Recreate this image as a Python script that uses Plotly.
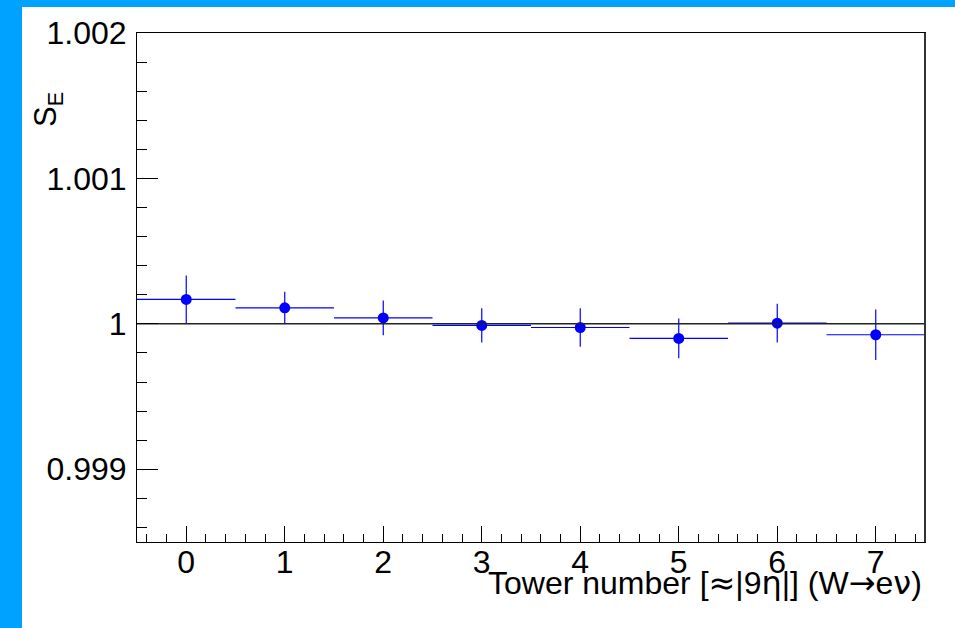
import plotly.graph_objects as go

# ---- data ----
towers = [0, 1, 2, 3, 4, 5, 6, 7]
s_e = [1.000168, 1.000110, 1.000041, 0.999989, 0.999975, 0.999900, 1.000005, 0.999925]
s_e_err = [0.000165, 0.000110, 0.000120, 0.000118, 0.000132, 0.000137, 0.000133, 0.000174]
bin_half_width = [0.5] * 8
ytick_vals = [0.999, 1.0, 1.001, 1.002]
ytick_text = ["0.999", "1", "1.001", "1.002"]
xtick_vals = [0, 1, 2, 3, 4, 5, 6, 7]
xtick_text = ["0", "1", "2", "3", "4", "5", "6", "7"]
x_range = [-0.5, 7.5]
y_range = [0.9985, 1.002]
reference_level = 1.0

W, H = 955, 628
L, R, T, B = 137, 30, 33, 86
pw, ph = W - L - R, H - T - B

FONT = "Liberation Sans, Arial, Helvetica, sans-serif"
BLUE = "#0000ff"
BORDER = "#00a2ff"

fig = go.Figure()

fig.add_trace(go.Scatter(
    x=towers, y=s_e, mode="markers",
    marker=dict(color=BLUE, size=11, line=dict(width=0)),
    error_y=dict(type="data", array=s_e_err, color=BLUE, thickness=1.2, width=0),
    error_x=dict(type="data", array=bin_half_width, color=BLUE, thickness=1.2, width=0),
    showlegend=False, cliponaxis=True,
))

# reference line at 1
fig.add_trace(go.Scatter(
    x=x_range, y=[reference_level, reference_level], mode="lines",
    line=dict(color="#222222", width=1.5), showlegend=False, hoverinfo="skip",
))

def px2x(p):
    return (p - L) / pw

def py2y(p):
    return (H - B - p) / ph

shapes = [
    dict(type="rect", xref="paper", yref="paper",
         x0=px2x(0), x1=px2x(22), y0=py2y(H), y1=py2y(0),
         fillcolor=BORDER, line=dict(width=0), layer="below"),
    dict(type="rect", xref="paper", yref="paper",
         x0=px2x(0), x1=px2x(W), y0=py2y(7), y1=py2y(0),
         fillcolor=BORDER, line=dict(width=0), layer="below"),
    # slightly heavier right frame edge
    dict(type="line", xref="paper", yref="paper", x0=1, x1=1, y0=0, y1=1,
         line=dict(color="#333333", width=2)),
]

SYM = "<span style='font-family:DejaVu Sans'>"
xtitle = "Tower number [" + SYM + "≈</span>|9" + SYM + "η</span>|] (W" + SYM + "→</span>e" + SYM + "ν</span>)"

fig.update_layout(
    width=W, height=H,
    margin=dict(l=L, r=R, t=T, b=B),
    paper_bgcolor="white", plot_bgcolor="white",
    font=dict(family=FONT, color="black", size=32),
    shapes=shapes,
    xaxis=dict(
        range=x_range, tickvals=xtick_vals, ticktext=xtick_text,
        ticks="inside", ticklen=16, tickwidth=1, tickcolor="black",
        showline=True, linecolor="black", linewidth=1, mirror=True,
        showgrid=False, zeroline=False,
        tickfont=dict(size=32), ticklabelstandoff=-8,
        minor=dict(dtick=0.2, tick0=0, ticks="inside", ticklen=8, tickwidth=1,
                   tickcolor="black", showgrid=False),
    ),
    yaxis=dict(
        range=y_range, tickvals=ytick_vals, ticktext=ytick_text,
        ticks="inside", ticklen=21, tickwidth=1, tickcolor="black",
        showline=True, linecolor="black", linewidth=1, mirror=True,
        showgrid=False, zeroline=False,
        tickfont=dict(size=32), ticklabelstandoff=3,
        minor=dict(dtick=0.0002, tick0=0.999, ticks="inside", ticklen=10, tickwidth=1,
                   tickcolor="black", showgrid=False),
    ),
    annotations=[
        dict(text=xtitle, xref="paper", yref="paper",
             x=px2x(924), y=py2y(604), xanchor="right", yanchor="bottom",
             showarrow=False, font=dict(size=32)),
        dict(text="S<sub>E</sub>", xref="paper", yref="paper",
             x=px2x(48), y=py2y(110), xanchor="center", yanchor="middle",
             textangle=-90, showarrow=False, font=dict(size=31)),
    ],
)

fig.write_html("out.html", config={"displayModeBar": False},
               post_script="document.body.style.margin='0';document.body.style.overflow='hidden';")
